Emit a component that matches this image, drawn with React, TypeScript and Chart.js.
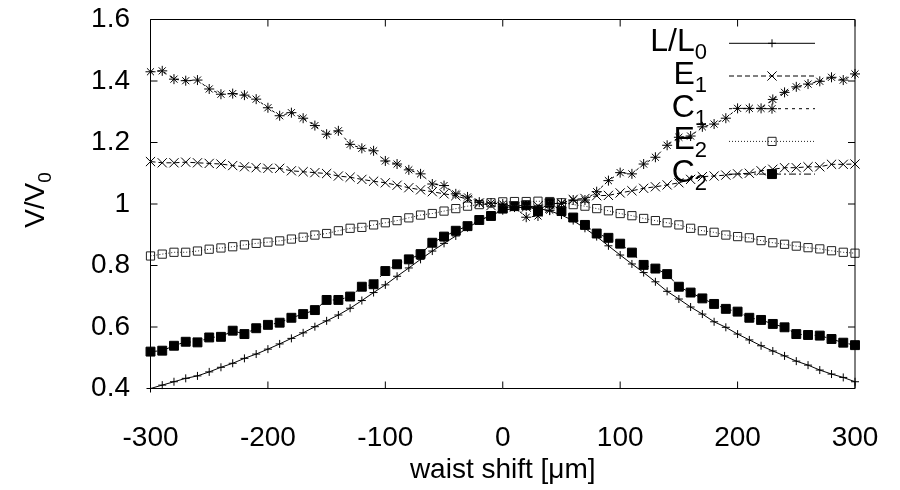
import React, { useEffect, useRef } from 'react';
import { Chart, registerables } from 'chart.js';
import { drawPoint } from 'chart.js/helpers';

Chart.register(...registerables);

const FONT = '"Liberation Sans", Arial, Helvetica, sans-serif';

// ---- data ----
const waistShift = [
  -300, -290, -280, -270, -260, -250, -240, -230, -220, -210, -200, -190, -180, -170, -160, -150,
  -140, -130, -120, -110, -100, -90, -80, -70, -60, -50, -40, -30, -20, -10, 0, 10, 20, 30, 40,
  50, 60, 70, 80, 90, 100, 110, 120, 130, 140, 150, 160, 170, 180, 190, 200, 210, 220, 230, 240,
  250, 260, 270, 280, 290, 300,
];

const lRatio = [
  0.400, 0.411, 0.422, 0.433, 0.441, 0.454, 0.469, 0.482, 0.498, 0.512, 0.528, 0.545, 0.563, 0.581,
  0.601, 0.620, 0.639, 0.661, 0.686, 0.712, 0.737, 0.765, 0.792, 0.820, 0.847, 0.872, 0.896, 0.923,
  0.945, 0.964, 0.978, 0.987, 0.990, 0.986, 0.978, 0.964, 0.946, 0.921, 0.894, 0.864, 0.834, 0.805,
  0.777, 0.747, 0.716, 0.691, 0.665, 0.642, 0.617, 0.599, 0.577, 0.558, 0.539, 0.522, 0.506, 0.489,
  0.476, 0.460, 0.447, 0.436, 0.422,
];

const e1 = [
  1.138, 1.134, 1.134, 1.136, 1.134, 1.132, 1.130, 1.125, 1.121, 1.118, 1.116, 1.116, 1.108, 1.105,
  1.102, 1.099, 1.091, 1.087, 1.080, 1.074, 1.069, 1.061, 1.053, 1.046, 1.040, 1.033, 1.027, 1.015,
  1.003, 0.995, 0.990, 0.990, 0.990, 0.994, 1.000, 1.003, 1.015, 1.018, 1.027, 1.028, 1.036, 1.043,
  1.051, 1.056, 1.062, 1.069, 1.080, 1.089, 1.091, 1.094, 1.098, 1.100, 1.108, 1.113, 1.118, 1.118,
  1.121, 1.121, 1.129, 1.129, 1.130,
];

const c1 = [
  1.430, 1.433, 1.406, 1.401, 1.403, 1.374, 1.357, 1.359, 1.354, 1.341, 1.313, 1.287, 1.297, 1.279,
  1.255, 1.227, 1.238, 1.194, 1.181, 1.173, 1.140, 1.130, 1.111, 1.098, 1.065, 1.060, 1.033, 1.023,
  1.006, 1.003, 1.000, 0.990, 0.957, 0.961, 0.980, 1.002, 1.013, 1.013, 1.040, 1.076, 1.102, 1.098,
  1.130, 1.152, 1.191, 1.217, 1.221, 1.251, 1.260, 1.279, 1.311, 1.311, 1.311, 1.340, 1.363, 1.381,
  1.390, 1.399, 1.412, 1.403, 1.423,
];

const e2 = [
  0.831, 0.837, 0.843, 0.843, 0.847, 0.853, 0.857, 0.861, 0.867, 0.872, 0.876, 0.880, 0.886, 0.892,
  0.899, 0.904, 0.913, 0.921, 0.924, 0.932, 0.939, 0.946, 0.955, 0.964, 0.969, 0.977, 0.985, 0.993,
  0.998, 1.004, 1.007, 1.008, 1.008, 1.009, 1.008, 1.004, 0.998, 0.993, 0.985, 0.978, 0.969, 0.962,
  0.953, 0.946, 0.939, 0.932, 0.921, 0.913, 0.908, 0.899, 0.894, 0.890, 0.881, 0.874, 0.869, 0.863,
  0.858, 0.854, 0.848, 0.843, 0.840,
];

const c2 = [
  0.520, 0.523, 0.539, 0.552, 0.550, 0.566, 0.568, 0.588, 0.577, 0.596, 0.607, 0.614, 0.630, 0.642,
  0.655, 0.688, 0.688, 0.699, 0.731, 0.739, 0.782, 0.804, 0.820, 0.837, 0.874, 0.894, 0.913, 0.928,
  0.948, 0.961, 0.985, 0.993, 0.996, 0.977, 1.004, 0.977, 0.956, 0.932, 0.904, 0.890, 0.871, 0.842,
  0.802, 0.790, 0.772, 0.731, 0.712, 0.693, 0.675, 0.659, 0.650, 0.630, 0.623, 0.610, 0.599, 0.577,
  0.574, 0.572, 0.561, 0.549, 0.541,
];

const xTickValues = [-300, -200, -100, 0, 100, 200, 300];
const xTickLabels = ['-300', '-200', '-100', '0', '100', '200', '300'];
const yTickValues = [0.4, 0.6, 0.8, 1, 1.2, 1.4, 1.6];
const yTickLabels = ['0.4', '0.6', '0.8', '1', '1.2', '1.4', '1.6'];

const legendMain = ['L/L', 'E', 'C', 'E', 'C'];
const legendSub = ['0', '1', '1', '2', '2'];

const xTitle = 'waist shift [\u03bcm]';
const yTitleMain = 'V/V';
const yTitleSub = '0';

// ---- styles ----
const TICK_FONT = 28;
const seriesStyles = [
  { pointStyle: 'cross', radius: 4, dash: [] as number[], fill: 'rgba(0,0,0,0)', color: '#000' },
  { pointStyle: 'crossRot', radius: 6.5, dash: [5, 3], fill: 'rgba(0,0,0,0)', color: '#000' },
  { pointStyle: 'star', radius: 5, dash: [3, 4], fill: 'rgba(0,0,0,0)', color: '#000' },
  { pointStyle: 'rect', radius: 5.8, dash: [1, 2], fill: 'rgba(0,0,0,0)', color: '#222' },
  { pointStyle: 'rect', radius: 6.3, dash: [7, 3, 2, 3], fill: '#000', color: '#000' },
];

const seriesValues = [lRatio, e1, c1, e2, c2];

const framePlugin = {
  id: 'gnuplotFrame',
  afterDatasetsDraw(chart: any) {
    const { ctx, chartArea: a, scales } = chart;
    ctx.save();
    ctx.strokeStyle = '#000';
    ctx.lineWidth = 1;
    ctx.setLineDash([]);
    ctx.beginPath();
    ctx.rect(a.left, a.top, a.right - a.left, a.bottom - a.top);
    const tl = 7;
    xTickValues.forEach((v) => {
      const px = scales.x.getPixelForValue(v);
      ctx.moveTo(px, a.bottom);
      ctx.lineTo(px, a.bottom - tl);
      ctx.moveTo(px, a.top);
      ctx.lineTo(px, a.top + tl);
    });
    yTickValues.forEach((v) => {
      const py = scales.y.getPixelForValue(v);
      ctx.moveTo(a.left, py);
      ctx.lineTo(a.left + tl, py);
      ctx.moveTo(a.right, py);
      ctx.lineTo(a.right - tl, py);
    });
    ctx.stroke();

    // legend
    const rightText = 707;
    const lineX0 = 729;
    const lineX1 = 815;
    const markX = 772;
    const rowY0 = 43.3;
    const rowStep = 32.7;
    chart.data.datasets.forEach((ds: any, i: number) => {
      const y = rowY0 + i * rowStep;
      ctx.fillStyle = '#000';
      ctx.textBaseline = 'alphabetic';
      ctx.textAlign = 'left';
      ctx.font = `32px ${FONT}`;
      const mw = ctx.measureText(legendMain[i]).width;
      ctx.font = `22px ${FONT}`;
      const sw = ctx.measureText(legendSub[i]).width;
      const x0 = rightText - mw - sw;
      ctx.font = `32px ${FONT}`;
      ctx.fillText(legendMain[i], x0, y + 8);
      ctx.font = `22px ${FONT}`;
      ctx.fillText(legendSub[i], x0 + mw, y + 16);

      ctx.strokeStyle = ds.borderColor;
      ctx.lineWidth = 1;
      ctx.setLineDash(ds.borderDash || []);
      ctx.beginPath();
      ctx.moveTo(lineX0, y);
      ctx.lineTo(lineX1, y);
      ctx.stroke();
      ctx.setLineDash([]);
      ctx.strokeStyle = ds.pointBorderColor;
      ctx.fillStyle = ds.pointBackgroundColor;
      ctx.lineWidth = 1;
      drawPoint(ctx, { pointStyle: ds.pointStyle, radius: ds.pointRadius, rotation: 0, borderWidth: 1 }, markX, y);
    });

    // axis titles
    ctx.fillStyle = '#000';
    ctx.textAlign = 'left';
    ctx.textBaseline = 'alphabetic';
    ctx.font = `${TICK_FONT}px ${FONT}`;
    const tw = ctx.measureText(xTitle).width;
    ctx.fillText(xTitle, (a.left + a.right) / 2 - tw / 2, 478);

    ctx.translate(44, 200);
    ctx.rotate(-Math.PI / 2);
    ctx.font = `${TICK_FONT}px ${FONT}`;
    const ym = ctx.measureText(yTitleMain).width;
    ctx.font = `19px ${FONT}`;
    const ys = ctx.measureText(yTitleSub).width;
    const start = -(ym + ys) / 2;
    ctx.font = `${TICK_FONT}px ${FONT}`;
    ctx.fillText(yTitleMain, start, 0);
    ctx.font = `19px ${FONT}`;
    ctx.fillText(yTitleSub, start + ym, 7);
    ctx.restore();
  },
};

export default function App() {
  const ref = useRef<HTMLCanvasElement | null>(null);

  useEffect(() => {
    if (!ref.current) return;
    const datasets = seriesValues.map((vals, i) => {
      const s = seriesStyles[i];
      return {
        label: legendMain[i] + legendSub[i],
        data: waistShift.map((x, j) => ({ x, y: vals[j] })),
        borderColor: s.color,
        borderWidth: 1,
        borderDash: s.dash,
        pointStyle: s.pointStyle,
        pointRadius: s.radius,
        pointBorderWidth: 1,
        pointBorderColor: s.color,
        pointBackgroundColor: s.fill,
        fill: false,
        tension: 0,
        clip: false,
      };
    });
    const hiddenGrid = (len: number) => ({
      display: true,
      drawOnChartArea: false,
      drawTicks: true,
      tickLength: len,
      tickColor: 'rgba(0,0,0,0)',
      color: 'rgba(0,0,0,0)',
    });
    const chart = new Chart(ref.current, {
      type: 'line',
      data: { datasets },
      options: {
        animation: false,
        responsive: true,
        maintainAspectRatio: false,
        events: [],
        layout: { autoPadding: false, padding: { left: 0, right: 45, top: 19.5, bottom: 0 } },
        plugins: { legend: { display: false }, tooltip: { enabled: false } },
        scales: {
          x: {
            type: 'linear',
            min: -300,
            max: 300,
            afterBuildTicks: (scale: any) => {
              scale.ticks = xTickValues.map((v) => ({ value: v }));
            },
            afterFit: (scale: any) => {
              scale.height = 101.5;
            },
            grid: hiddenGrid(33),
            border: { display: false },
            ticks: {
              padding: 0,
              color: '#000',
              font: { family: FONT, size: TICK_FONT },
              maxRotation: 0,
              autoSkip: false,
              callback: (v: any) => xTickLabels[xTickValues.indexOf(Number(v))] ?? String(v),
            },
          },
          y: {
            type: 'linear',
            min: 0.4,
            max: 1.6,
            afterBuildTicks: (scale: any) => {
              scale.ticks = yTickValues.map((v) => ({ value: v }));
            },
            afterFit: (scale: any) => {
              scale.width = 150.5;
            },
            grid: hiddenGrid(20.5),
            border: { display: false },
            ticks: {
              padding: 0,
              color: '#000',
              font: { family: FONT, size: TICK_FONT },
              autoSkip: false,
              callback: (v: any) => {
                const idx = yTickValues.findIndex((t) => Math.abs(t - Number(v)) < 1e-6);
                return idx >= 0 ? yTickLabels[idx] : String(v);
              },
            },
          },
        },
      },
      plugins: [framePlugin],
    });
    return () => chart.destroy();
  }, []);

  return (
    <div style={{ position: 'absolute', left: 0, top: 0, width: 900, height: 490, background: '#fff' }}>
      <canvas ref={ref} />
    </div>
  );
}
